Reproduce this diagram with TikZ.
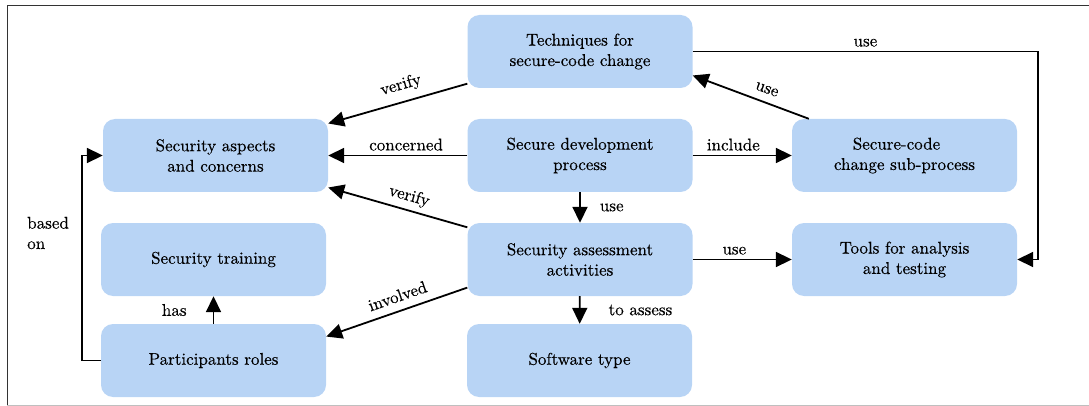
\documentclass[tikz,border=0pt]{standalone}
\usepackage{fontspec}
\setmainfont{lmroman10-regular}[Extension=.otf, FakeBold=0.35]
\usetikzlibrary{arrows.meta}
\definecolor{boxblue}{RGB}{184,212,245}
\begin{document}
\begin{tikzpicture}[x=1pt,y=-1pt,
  box/.style={fill=boxblue, rounded corners=12pt, minimum width=225pt, minimum height=73pt, inner sep=2pt, align=center, font=\fontsize{17}{20.4}\selectfont},
  conn/.style={line width=1.8pt, -{Triangle[length=16pt,width=15pt]}},
  lbl/.style={font=\fontsize{17}{20.4}\selectfont, inner sep=4pt},
  slbl/.style={lbl, sloped, above=4pt}
]
\useasboundingbox (0,0) rectangle (1089,406);
\draw[line width=1pt, black!80] (7,405) -- (7,6) -- (1089,6);
\draw[line width=1pt, black!25] (7,405) -- (1089,405);

\node[box] (tech) at (580,51.5) {Techniques for\\secure-code change};
\node[box] (asp) at (215.5,155.5) {Security aspects\\and concerns};
\node[box] (dev) at (580,155.5) {Secure development\\process};
\node[box] (scc) at (904.5,155.5) {Secure-code\hspace*{16pt}\\change sub-process};
\node[box] (tr) at (213.5,259.5) {Security training};
\node[box] (ass) at (580,259.5) {Security assessment\\activities};
\node[box] (tools) at (904.5,259.5) {Tools for analysis\\and testing};
\node[box] (part) at (213.5,360.5) {Participants roles};
\node[box] (sw) at (579.5,360.5) {Software type};

\draw[conn] (tech) -- node[slbl, pos=0.445]{verify} (asp);
\draw[conn] (dev) -- node[lbl, above, pos=0.44]{concerned} (asp);
\draw[conn] (dev) -- node[lbl, above, pos=0.41]{include} (scc);
\draw[conn] (scc.159) -- node[slbl, pos=0.40]{use} (tech.-12);
\draw[conn] (tech.east) -- node[lbl, above]{use} ++(345.5,0) |- (tools.east);
\draw[conn] (dev) -- node[lbl, right, xshift=15pt]{use} (ass);
\draw[conn] (ass) -- node[lbl, sloped, above=1pt, pos=0.445]{verify} (asp);
\draw[conn] (ass) -- node[lbl, above, pos=0.42]{use} (tools);
\draw[conn] (ass.194) -- node[slbl, pos=0.46]{involved} (part.12);
\draw[conn] (ass) -- node[lbl, right, xshift=24pt]{to assess} (sw);
\draw[conn] (part) -- node[lbl, left, xshift=-22pt]{has} (tr);
\draw[conn] (part.west) -- ++(-19,0) |- node[lbl, left, pos=0.311, xshift=-8pt, align=left]{based\\on} (asp.west);
\end{tikzpicture}
\end{document}
